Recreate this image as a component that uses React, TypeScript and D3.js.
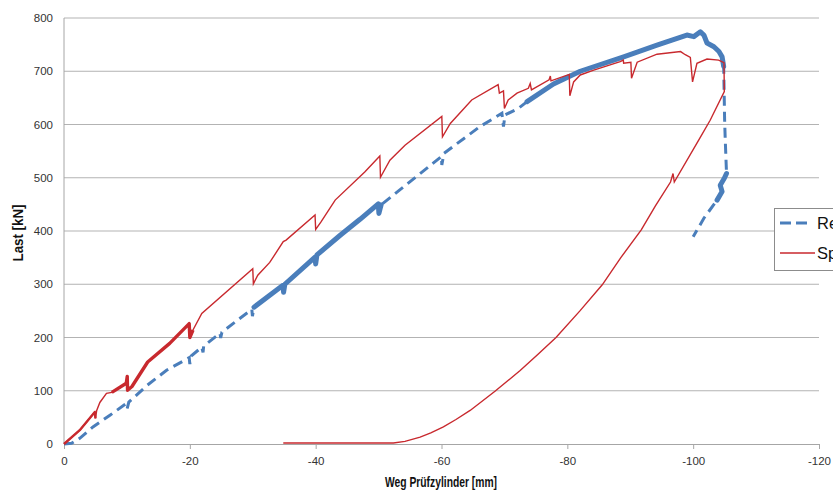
import React, { useEffect, useRef } from 'react';
import * as d3 from 'd3';

const xTicks = [0, -20, -40, -60, -80, -100, -120];
const yTicks = [0, 100, 200, 300, 400, 500, 600, 700, 800];

const seriesNames = ['Referenzversuch', 'Spannbetonversuch'];

// R: Weg [mm], Last [kN]
const refData = [
  [0, 0], [-1.2, 1.3], [-2.5, 10.7], [-4.6, 32], [-7.3, 54], [-9.9, 76], [-10.05, 67], [-10.3, 78.8],
  [-13.2, 110], [-16.3, 138.5], [-19.9, 162], [-20.0, 150], [-20.2, 165], [-21.9, 182], [-22.1, 172],
  [-22.2, 184], [-24.8, 208], [-24.9, 199], [-25.1, 210], [-29.85, 253], [-29.95, 240], [-30.2, 257],
  [-34.8, 298], [-34.9, 285], [-35.1, 300], [-39.9, 351], [-40.0, 338], [-40.2, 355], [-43.9, 392],
  [-47.05, 422], [-49.95, 451], [-50.05, 433], [-50.4, 449], [-60.0, 540], [-60.05, 524], [-60.4, 546],
  [-66.1, 596], [-69.6, 621], [-69.85, 596], [-70.1, 618], [-72.2, 630], [-73.6, 643], [-77.8, 676],
  [-82.05, 700], [-88.95, 727], [-94.25, 749], [-99.0, 768], [-100.1, 765], [-101.15, 774], [-101.7, 768],
  [-102.2, 753], [-103.3, 746], [-104.1, 737], [-104.6, 727], [-104.85, 709], [-105.0, 608], [-105.1, 571],
  [-105.3, 508], [-104.95, 499], [-104.3, 486], [-104.6, 474], [-103.8, 458], [-101.7, 424], [-100.0, 389],
];

// S: Weg [mm], Last [kN]
const spData = [
  [0, 0], [-2.5, 26], [-4.9, 60], [-5.0, 48], [-5.2, 63], [-5.7, 78], [-6.75, 95], [-7.6, 97],
  [-9.9, 114], [-10.05, 127], [-10.1, 101], [-10.8, 108], [-13.3, 154], [-16.8, 189], [-19.9, 226],
  [-20.0, 200], [-20.5, 214], [-21.9, 245], [-30.0, 329], [-30.1, 301], [-30.8, 317], [-32.7, 341],
  [-34.85, 380], [-35.3, 383], [-39.9, 430], [-40.0, 403], [-40.85, 417], [-43.1, 458], [-47.8, 511],
  [-50.2, 541], [-50.3, 501], [-51.8, 533], [-54.2, 561], [-60.05, 615], [-60.15, 577], [-61.4, 602],
  [-64.8, 646], [-69.0, 675], [-69.2, 659], [-69.85, 663], [-70.0, 630], [-70.6, 646], [-72.0, 659],
  [-73.8, 668], [-74.1, 677], [-74.3, 665], [-77.1, 684], [-77.3, 691], [-77.4, 682], [-80.3, 694],
  [-80.4, 654], [-81.0, 680], [-82.05, 693], [-84.2, 702], [-88.4, 718], [-88.9, 721], [-88.95, 715],
  [-90.1, 717], [-90.2, 687], [-91.1, 717], [-94.25, 732], [-98.0, 737], [-98.75, 731], [-99.55, 726],
  [-99.9, 680], [-100.6, 715], [-102.2, 723], [-104.05, 721], [-104.9, 716], [-104.95, 662], [-102.7, 608],
  [-100.9, 571], [-97.0, 492], [-96.8, 508], [-96.4, 492], [-94.0, 447], [-91.75, 402], [-88.5, 350],
  [-85.55, 299], [-82.0, 250], [-78.2, 200], [-75.3, 168], [-72.5, 138], [-68.5, 99], [-64.55, 63],
  [-62.3, 46], [-60.3, 32], [-58.3, 21], [-56.6, 13], [-54.2, 5], [-52.35, 2], [-34.85, 2],
];

// index spans where the measured curve oscillates densely (drawn as a solid band)
const refDense = [[21, 32], [41, 54], [57, 61]];
const spDense = [[0, 3], [7, 16]];

export default function App() {
  const ref = useRef<SVGSVGElement>(null);

  useEffect(() => {
    const svg = d3.select(ref.current);
    svg.selectAll('*').remove();

    const x = d3.scaleLinear().domain([0, -120]).range([64, 819]);
    const y = d3.scaleLinear().domain([0, 800]).range([444, 18]);
    const font = "'Liberation Sans', Arial, sans-serif";
    const blue = '#4a7ebb';
    const red = '#c8292e';

    // gridlines
    svg.append('g')
      .selectAll('line')
      .data(yTicks.slice(1))
      .enter()
      .append('line')
      .attr('x1', 64).attr('x2', 819)
      .attr('y1', d => y(d)).attr('y2', d => y(d))
      .attr('stroke', '#b3b3b3').attr('stroke-width', 1);

    // y axis line and labels
    svg.append('line')
      .attr('x1', 64).attr('x2', 64).attr('y1', y(800)).attr('y2', y(0))
      .attr('stroke', '#a6a6a6');
    svg.append('g')
      .selectAll('text')
      .data(yTicks)
      .enter()
      .append('text')
      .attr('x', 53).attr('y', d => y(d)).attr('dy', '0.35em')
      .attr('text-anchor', 'end')
      .attr('font-family', font).attr('font-size', 11.5).attr('fill', '#333')
      .text(d => String(d));

    // x axis
    const xAxis = svg.append('g')
      .attr('transform', `translate(0,${y(0)})`)
      .call(d3.axisBottom(x).tickValues(xTicks).tickSize(5).tickSizeOuter(0).tickPadding(8).tickFormat(d => String(d)));
    xAxis.select('.domain').attr('stroke', '#a6a6a6');
    xAxis.selectAll('.tick line').attr('stroke', '#a6a6a6');
    xAxis.selectAll('.tick text')
      .attr('font-family', font).attr('font-size', 11.5).attr('fill', '#333');

    // axis titles
    svg.append('text')
      .attr('x', 441).attr('y', 487)
      .attr('text-anchor', 'middle')
      .attr('font-family', "'Liberation Sans Narrow', 'Liberation Sans', Arial, sans-serif")
      .attr('font-weight', 'bold').attr('font-size', 15.5)
      .attr('textLength', 112).attr('lengthAdjust', 'spacingAndGlyphs')
      .attr('fill', '#111')
      .text('Weg Prüfzylinder [mm]');
    svg.append('text')
      .attr('transform', 'translate(23,233) rotate(-90)')
      .attr('text-anchor', 'middle')
      .attr('font-family', "'Liberation Sans Narrow', 'Liberation Sans', Arial, sans-serif")
      .attr('font-weight', 'bold').attr('font-size', 15.5)
      .attr('textLength', 57).attr('lengthAdjust', 'spacingAndGlyphs')
      .attr('fill', '#111')
      .text('Last [kN]');

    const line = d3.line<number[]>().x(d => x(d[0])).y(d => y(d[1]));

    // R series
    svg.append('path')
      .datum(refData)
      .attr('d', line)
      .attr('fill', 'none').attr('stroke', blue).attr('stroke-width', 3)
      .attr('stroke-dasharray', '10,6');
    refDense.forEach(([a, b]) => {
      svg.append('path')
        .datum(refData.slice(a, b + 1))
        .attr('d', line)
        .attr('fill', 'none').attr('stroke', blue).attr('stroke-width', 5)
        .attr('stroke-linejoin', 'round').attr('stroke-linecap', 'round');
    });

    // S series
    svg.append('path')
      .datum(spData)
      .attr('d', line)
      .attr('fill', 'none').attr('stroke', red).attr('stroke-width', 1.4);
    spDense.forEach(([a, b], i) => {
      svg.append('path')
        .datum(spData.slice(a, b + 1))
        .attr('d', line)
        .attr('fill', 'none').attr('stroke', red).attr('stroke-width', i === 0 ? 2.4 : 3.4)
        .attr('stroke-linejoin', 'round');
    });

    // legend (cut off by the right edge, as in the original)
    const lg = svg.append('g');
    lg.append('rect')
      .attr('x', 774.5).attr('y', 208.5).attr('width', 120).attr('height', 62)
      .attr('fill', '#fff').attr('stroke', '#8c8c8c');
    lg.append('line')
      .attr('x1', 780).attr('x2', 808).attr('y1', 223).attr('y2', 223)
      .attr('stroke', blue).attr('stroke-width', 3).attr('stroke-dasharray', '11,5');
    lg.append('line')
      .attr('x1', 780).attr('x2', 815).attr('y1', 253).attr('y2', 253)
      .attr('stroke', red).attr('stroke-width', 1.4);
    lg.selectAll('text.lbl')
      .data(seriesNames)
      .enter()
      .append('text')
      .attr('class', 'lbl')
      .attr('x', 817).attr('y', (d, i) => 223 + i * 30).attr('dy', '0.36em')
      .attr('font-family', font).attr('font-size', 16.5).attr('fill', '#111')
      .text(d => d);
  }, []);

  return (
    <svg
      ref={ref}
      width={833}
      height={490}
      style={{ position: 'absolute', left: 0, top: 0, background: '#fff', overflow: 'hidden' }}
    />
  );
}
